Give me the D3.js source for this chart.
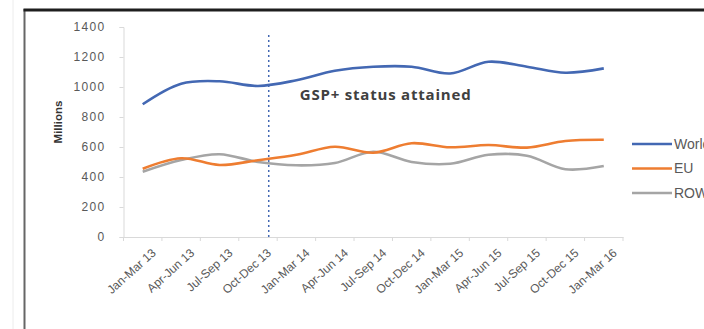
<!DOCTYPE html>
<html>
<head>
<meta charset="utf-8">
<script src="https://cdn.jsdelivr.net/npm/d3@7"></script>
<style>
  html, body { margin: 0; padding: 0; background: #fff; overflow: hidden; }
  svg { display: block; }
  text { font-family: "Liberation Sans", Arial, sans-serif; }
</style>
</head>
<body>
<svg id="chart" width="704" height="329"></svg>
<script>
// Quarterly exports, in millions
const quarters = ["Jan-Mar 13","Apr-Jun 13","Jul-Sep 13","Oct-Dec 13","Jan-Mar 14","Apr-Jun 14",
                  "Jul-Sep 14","Oct-Dec 14","Jan-Mar 15","Apr-Jun 15","Jul-Sep 15","Oct-Dec 15","Jan-Mar 16"];
const world = [885, 1022, 1038, 1007, 1045, 1108, 1135, 1135, 1090, 1168, 1135, 1095, 1124];
const eu    = [455, 525, 480, 512, 548, 602, 562, 625, 598, 613, 596, 640, 648];
const row   = [435, 513, 552, 500, 478, 493, 568, 500, 488, 548, 542, 452, 473];
const seriesNames = ["World", "EU", "ROW"];
const seriesColors = ["#4368b3", "#ee7d31", "#a5a5a5"];
const yTicks = [0, 200, 400, 600, 800, 1000, 1200, 1400];
const statusLabel = "GSP+ status attained";
const statusAfter = "Oct-Dec 13";   // GSP+ came in late in this quarter
const statusFrac = 0.78;

const svg = d3.select("#chart");

// window frame
svg.append("line").attr("x1", 13).attr("x2", 13).attr("y1", 0).attr("y2", 329)
  .attr("stroke", "#ececec").attr("stroke-width", 1);
svg.append("line").attr("x1", 24.5).attr("x2", 24.5).attr("y1", 9).attr("y2", 329)
  .attr("stroke", "#666").attr("stroke-width", 2);
svg.append("line").attr("x1", 23.5).attr("x2", 704).attr("y1", 10).attr("y2", 10)
  .attr("stroke", "#1e1e1e").attr("stroke-width", 3);

const x = d3.scaleBand().domain(quarters).range([123.5, 623]);
const y = d3.scaleLinear().domain([0, 1400]).range([237, 27]);
const cx = q => x(q) + x.bandwidth() / 2;

// y axis
const yAxis = svg.append("g").attr("transform", "translate(123.5,0)")
  .call(d3.axisLeft(y).tickValues(yTicks).tickSize(4).tickPadding(14).tickFormat(d3.format("d")));
yAxis.select(".domain").attr("stroke", "#d9d9d9");
yAxis.selectAll(".tick line").attr("stroke", "#d9d9d9");
yAxis.selectAll("text").attr("fill", "#595959").style("font-size", "12px")
  .style("letter-spacing", "1.3px");

// x axis: labels centred on quarters, tick marks between quarters
const xAxis = svg.append("g").attr("transform", `translate(0,${y(0)})`)
  .call(d3.axisBottom(x).tickSize(0).tickPadding(6));
xAxis.select(".domain").attr("stroke", "#d9d9d9");
xAxis.selectAll("text")
  .attr("fill", "#595959").style("font-size", "12px")
  .attr("text-anchor", "end")
  .attr("transform", "translate(6,8) rotate(-42)")
  .attr("dy", "0.5em");
svg.append("g").selectAll("line")
  .data(quarters.concat([null]))
  .join("line")
  .attr("x1", (d, i) => i < quarters.length ? x(d) : x(quarters[quarters.length - 1]) + x.bandwidth())
  .attr("x2", (d, i) => i < quarters.length ? x(d) : x(quarters[quarters.length - 1]) + x.bandwidth())
  .attr("y1", y(0)).attr("y2", y(0) + 4)
  .attr("stroke", "#d9d9d9");

// y axis title
svg.append("text")
  .attr("transform", `translate(62,${(y(0) + y(1400)) / 2 - 10}) rotate(-90)`)
  .attr("text-anchor", "middle")
  .attr("fill", "#333").style("font-size", "11.5px").style("font-weight", "bold")
  .text("Millions");

// GSP+ marker
const sx = x(statusAfter) + x.bandwidth() * statusFrac;
svg.append("line")
  .attr("x1", sx).attr("x2", sx).attr("y1", 35).attr("y2", y(0) + 3)
  .attr("stroke", "#4368b3").attr("stroke-width", 1.5).attr("stroke-dasharray", "2,3");
svg.append("text")
  .attr("x", sx + 31).attr("y", 100)
  .attr("fill", "#404040").style("font-size", "15px").style("font-weight", "bold")
  .style("font-family", "'Open Sans', sans-serif").style("letter-spacing", "0.8px")
  .text(statusLabel);

// series lines
const allSeries = [world, eu, row];
const line = d3.line()
  .x((d, i) => cx(quarters[i]))
  .y(d => y(d))
  .curve(d3.curveCatmullRom.alpha(0.5));
svg.append("g").selectAll("path")
  .data([row, eu, world])
  .join("path")
  .attr("d", d => line(d))
  .attr("fill", "none")
  .attr("stroke", d => seriesColors[allSeries.indexOf(d)])
  .attr("stroke-width", 2.6)
  .attr("stroke-linejoin", "round");

// legend
const legend = svg.append("g").selectAll("g")
  .data(seriesNames)
  .join("g")
  .attr("transform", (d, i) => `translate(632,${144 + i * 24.5})`);
legend.append("line").attr("x1", 0).attr("x2", 40)
  .attr("stroke", (d, i) => seriesColors[i]).attr("stroke-width", 2.6);
legend.append("text").attr("x", 42).attr("dy", "0.35em")
  .attr("fill", "#595959").style("font-size", "14px")
  .text(d => d);
</script>
</body>
</html>
